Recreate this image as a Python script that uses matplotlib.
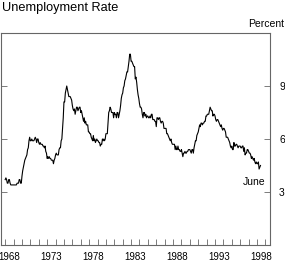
import matplotlib
matplotlib.use("Agg")
import matplotlib.pyplot as plt
import numpy as np

plt.rcParams['font.family'] = ['Liberation Sans', 'DejaVu Sans']

title = "Unemployment Rate"
unit_label = "Percent"
end_label = "June"
start_year = 1968
tick_years = list(range(1968, 1999, 5))
y_ticks = [3, 6, 9]

# Monthly civilian unemployment rate, Jan 1968 - Jun 1998 (percent)
rate = [
    3.7, 3.8, 3.7, 3.5, 3.5, 3.7, 3.7, 3.5, 3.4, 3.4, 3.4, 3.4,   # 1968
    3.4, 3.4, 3.4, 3.4, 3.4, 3.5, 3.5, 3.5, 3.7, 3.7, 3.5, 3.5,   # 1969
    3.9, 4.2, 4.4, 4.6, 4.8, 4.9, 5.0, 5.1, 5.4, 5.5, 5.9, 6.1,   # 1970
    5.9, 5.9, 6.0, 5.9, 5.9, 5.9, 6.0, 6.1, 6.0, 5.8, 6.0, 6.0,   # 1971
    5.8, 5.7, 5.8, 5.7, 5.7, 5.7, 5.6, 5.6, 5.5, 5.6, 5.3, 5.2,   # 1972
    4.9, 5.0, 4.9, 5.0, 4.9, 4.9, 4.8, 4.8, 4.8, 4.6, 4.8, 4.9,   # 1973
    5.1, 5.2, 5.1, 5.1, 5.1, 5.4, 5.5, 5.5, 5.9, 6.0, 6.6, 7.2,   # 1974
    8.1, 8.1, 8.6, 8.8, 9.0, 8.8, 8.6, 8.4, 8.4, 8.4, 8.3, 8.2,   # 1975
    7.9, 7.7, 7.6, 7.7, 7.4, 7.6, 7.8, 7.8, 7.6, 7.7, 7.8, 7.8,   # 1976
    7.5, 7.6, 7.4, 7.2, 7.0, 7.2, 6.9, 7.0, 6.8, 6.8, 6.8, 6.4,   # 1977
    6.4, 6.3, 6.3, 6.1, 6.0, 5.9, 6.2, 5.9, 6.0, 5.8, 5.9, 6.0,   # 1978
    5.9, 5.9, 5.8, 5.8, 5.6, 5.7, 5.7, 6.0, 5.9, 6.0, 5.9, 6.0,   # 1979
    6.3, 6.3, 6.3, 6.9, 7.5, 7.6, 7.8, 7.7, 7.5, 7.5, 7.5, 7.2,   # 1980
    7.5, 7.4, 7.4, 7.2, 7.5, 7.5, 7.2, 7.4, 7.6, 7.9, 8.3, 8.5,   # 1981
    8.6, 8.9, 9.0, 9.3, 9.4, 9.6, 9.8, 9.8, 10.1, 10.4, 10.8, 10.8,  # 1982
    10.4, 10.4, 10.3, 10.2, 10.1, 10.1, 9.4, 9.5, 9.2, 8.8, 8.5, 8.3,  # 1983
    8.0, 7.8, 7.8, 7.7, 7.4, 7.2, 7.5, 7.5, 7.3, 7.4, 7.2, 7.3,   # 1984
    7.3, 7.2, 7.2, 7.3, 7.2, 7.4, 7.4, 7.1, 7.1, 7.1, 7.0, 7.0,   # 1985
    6.7, 7.2, 7.2, 7.1, 7.2, 7.2, 7.0, 6.9, 7.0, 7.0, 6.9, 6.6,   # 1986
    6.6, 6.6, 6.6, 6.3, 6.3, 6.2, 6.1, 6.0, 5.9, 6.0, 5.8, 5.7,   # 1987
    5.7, 5.7, 5.7, 5.4, 5.6, 5.4, 5.4, 5.6, 5.4, 5.4, 5.3, 5.3,   # 1988
    5.4, 5.2, 5.0, 5.2, 5.2, 5.3, 5.2, 5.2, 5.3, 5.3, 5.4, 5.4,   # 1989
    5.4, 5.3, 5.2, 5.4, 5.4, 5.2, 5.5, 5.7, 5.9, 5.9, 6.2, 6.3,   # 1990
    6.4, 6.6, 6.8, 6.7, 6.9, 6.9, 6.8, 6.9, 6.9, 7.0, 7.0, 7.3,   # 1991
    7.3, 7.4, 7.4, 7.4, 7.6, 7.8, 7.7, 7.6, 7.6, 7.3, 7.4, 7.4,   # 1992
    7.3, 7.1, 7.0, 7.1, 7.1, 7.0, 6.9, 6.8, 6.7, 6.8, 6.6, 6.5,   # 1993
    6.6, 6.6, 6.5, 6.4, 6.1, 6.1, 6.1, 6.0, 5.9, 5.8, 5.6, 5.5,   # 1994
    5.6, 5.4, 5.4, 5.8, 5.6, 5.6, 5.7, 5.7, 5.6, 5.5, 5.6, 5.6,   # 1995
    5.6, 5.5, 5.5, 5.6, 5.6, 5.3, 5.5, 5.1, 5.2, 5.2, 5.4, 5.4,   # 1996
    5.3, 5.2, 5.2, 5.1, 4.9, 5.0, 4.9, 4.8, 4.9, 4.7, 4.6, 4.7,   # 1997
    4.6, 4.6, 4.7, 4.3, 4.4, 4.5,                                 # 1998
]

dates = start_year + np.arange(len(rate)) / 12.0

fig = plt.figure(figsize=(2.85, 2.62), dpi=100)
ax = fig.add_axes([1 / 285, 17 / 262, 269 / 285, 212 / 262])

ax.plot(dates, rate, color='black', lw=0.8)

ax.set_xlim(1967.5, 1999.55)
ax.set_ylim(0, 12)

spine_color = '#666666'
for s in ax.spines.values():
    s.set_color(spine_color)
    s.set_linewidth(0.8)

# x axis: year-boundary tick marks, labels centred on mid-year
ax.set_xticks([y + 0.5 for y in tick_years])
ax.set_xticklabels([str(y) for y in tick_years])
ax.set_xticks(list(range(1968, 2000)), minor=True)
ax.tick_params(axis='x', which='major', length=0, pad=5.0, labelsize=7)
ax.tick_params(axis='x', which='minor', direction='in', length=4.3,
               width=0.6, color=spine_color)

# y axis: ticks on both sides, labels on right
ax.set_yticks(y_ticks)
ax.set_yticklabels([str(v) for v in y_ticks])
ax.tick_params(axis='y', which='major', direction='in', length=4.3, width=0.6,
               color=spine_color, left=True, right=True,
               labelleft=False, labelright=True, labelsize=7.5, pad=6.5)

ax.text(1999.05, 3.55, end_label, ha='right', va='center', fontsize=7.5)

fig.text(2 / 285, 1 - 2 / 262, title, ha='left', va='top', fontsize=9.2)
fig.text(284 / 285, 1 - 24 / 262, unit_label, ha='right', va='center', fontsize=7.5)

fig.savefig('out.png', dpi=100)
